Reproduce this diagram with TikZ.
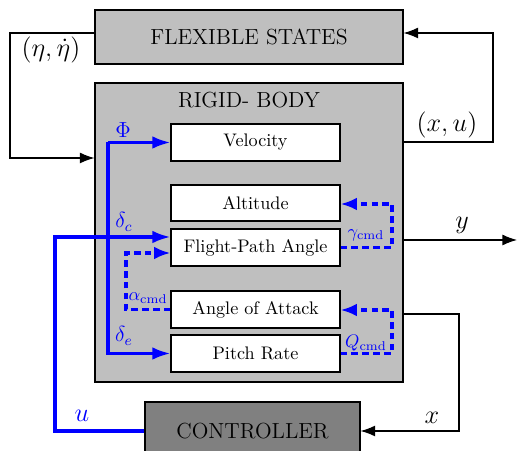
\documentclass[tikz,border=0pt]{standalone}
\usetikzlibrary{arrows.meta,fit}
\definecolor{flexgray}{RGB}{191,191,191}
\definecolor{ctrlgray}{RGB}{128,128,128}
\tikzset{
  blk/.style={draw=black, line width=0.6pt},
  inner/.style={blk, fill=white, inner sep=0pt},
  sig/.style={draw=black, line width=0.6pt, -{Latex[length=8pt,width=6pt]}},
  bl/.style={draw=blue, line width=1.7pt, -{Latex[length=10pt,width=7pt]}},
  bld/.style={draw=blue, line width=1.7pt, dash pattern=on 3.5pt off 2.5pt, -{Latex[length=9pt,width=7pt]}},
  lab/.style={text=blue},
}
\begin{document}
\begin{tikzpicture}[x=0.55pt,y=-0.55pt]
\useasboundingbox (0,0) rectangle (517,451);
\clip (0,0) rectangle (517,451);
% big boxes
\node[blk, fill=flexgray, inner sep=0pt, fit={(95,10) (403,64)}] (flex) {};
\node[font=\large] at (flex.center) {FLEXIBLE STATES};
\node[blk, fill=flexgray, inner sep=0pt, fit={(95,83) (403,382)}] (rigid) {};
\node[font=\large] (rtitle) at (249,100) {RIGID- BODY};
\node[blk, fill=ctrlgray, inner sep=0pt, fit={(145,402) (360,460)}] (ctrl) {};
\node[font=\large] at (ctrl.center) {CONTROLLER};
% inner boxes
\node[inner, fit={(171,124) (340,161)}] (vel) {};
\node at (vel.center) {Velocity};
\node[inner, fit={(171,185) (340,221)}] (alt) {};
\node at (alt.center) {Altitude};
\node[inner, fit={(171,229) (340,266)}] (fpa) {};
\node at (fpa.center) {Flight-Path Angle};
\node[inner, fit={(171,291) (340,328)}] (aoa) {};
\node at (aoa.center) {Angle of Attack};
\node[inner, fit={(171,335) (340,372)}] (pr) {};
\node at (pr.center) {Pitch Rate};
% coordinates
\coordinate (etaL) at (10,158);
\coordinate (xuR) at (493,33);
\coordinate (yEnd) at (517,240);
\coordinate (xR) at (459,431);
\coordinate (uL) at (55,237);
\coordinate (spine) at (108,250);
\coordinate (acL) at (126,253);
\coordinate (gcR) at (392,204);
\coordinate (qcR) at (392,310);
% black signals
\draw[sig] (flex.west |- 0,33) -| (etaL) -- (rigid.west |- etaL);
\draw[sig] (rigid.east |- 0,142) -| (xuR) -- (flex.east |- xuR);
\draw[sig] (rigid.east |- yEnd) -- (yEnd);
\draw[sig] (rigid.east |- 0,314) -| (xR) -- (ctrl.east |- xR);
% blue signals
\draw[bl] (ctrl.west) -| (uL) -- (fpa.west |- uL);
\draw[bl] (spine |- vel.west) -- (vel.west);
\draw[bl] (vel.west -| spine) |- (pr.west);
% dashed commands
\draw[bld] (aoa.west) -| (acL) -- (fpa.west |- acL);
\draw[bld] (fpa.east) -| (gcR) -- (alt.east |- gcR);
\draw[bld] (pr.east) -| (qcR) -- (aoa.east |- qcR);
% labels
\node[font=\Large] at (51,50) {$(\eta,\dot\eta)$};
\node[font=\Large] at (447,125) {$(x,u)$};
\node[font=\Large] at (462,225) {$y$};
\node[font=\Large] at (432,418) {$x$};
\node[lab, font=\Large] at (82,416) {$u$};
\node[lab, font=\large] at (123,130) {$\Phi$};
\node[lab, font=\large] at (124,222) {$\delta_c$};
\node[lab, font=\large] at (124,336) {$\delta_e$};
\node[lab] at (148,298) {$\alpha_{\mathrm{cmd}}$};
\node[lab] at (366,235) {$\gamma_{\mathrm{cmd}}$};
\node[lab] at (366,343) {$Q_{\mathrm{cmd}}$};
\end{tikzpicture}
\end{document}
